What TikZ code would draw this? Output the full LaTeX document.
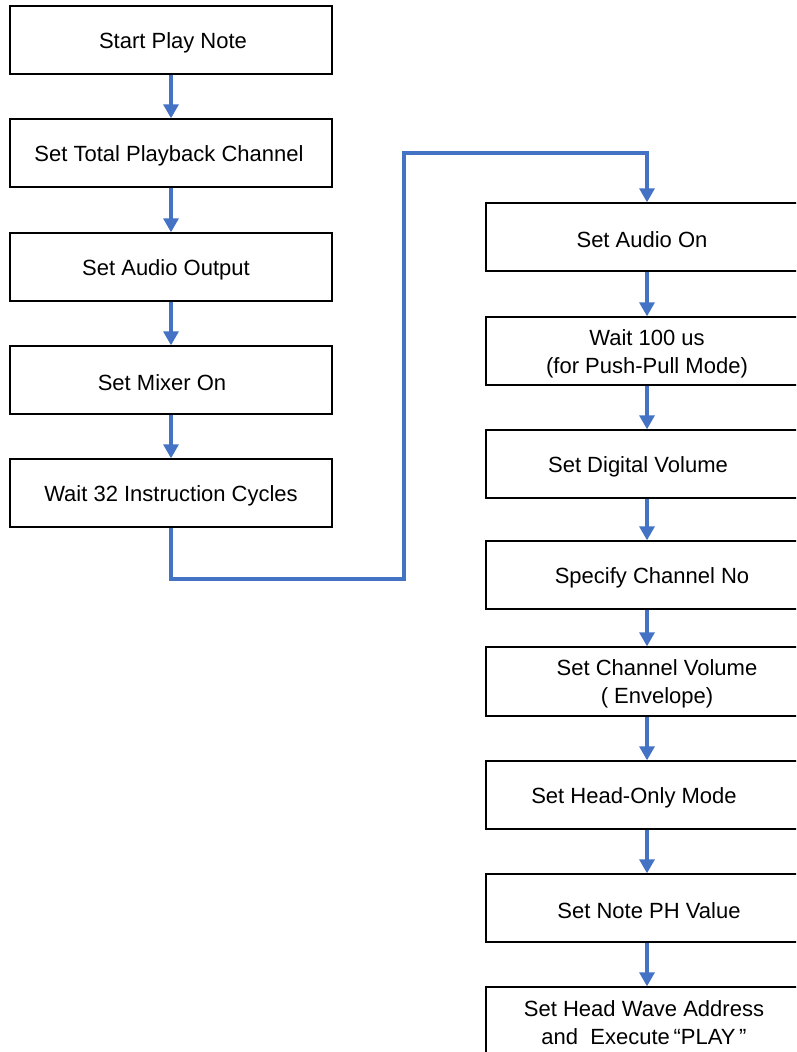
\documentclass[tikz,border=0pt]{standalone}
\usepackage{fontspec}
\setmainfont{Liberation Sans}
\usetikzlibrary{arrows.meta}
\definecolor{flowblue}{RGB}{68,114,196}
\tikzset{
  stepbox/.style={draw=black, line width=1.4pt, fill=white, minimum width=322pt,
    minimum height=68pt, inner sep=0pt},
  txt/.style={font=\fontsize{22}{28}\selectfont, align=center, inner sep=0pt,
    yshift=-2.5pt},
  flow/.style={draw=flowblue, line width=3.3pt,
    -{Triangle[width=15pt,length=14pt]}}
}
\begin{document}
\begin{tikzpicture}[x=1pt,y=-1pt]
\clip (0,0) rectangle (796,1052);
\fill[white] (0,0) rectangle (796,1052);

% left column
\node[stepbox] (l1) at (171,40) {};
\node[stepbox] (l2) at (171,153) {};
\node[stepbox] (l3) at (171,267) {};
\node[stepbox] (l4) at (171,380) {};
\node[stepbox] (l5) at (171,493) {};
\node[txt] (t1) at (173,40) {Start Play Note};
\node[txt] (t2) at (169,153) {Set Total Playback Channel};
\node[txt] (t3) at (166,267) {Set Audio Output};
\node[txt] (t4) at (162,380) {Set Mixer On};
\node[txt] (t5) at (171,493) {Wait 32 Instruction Cycles};

% right column (runs past the right edge)
\node[stepbox] (r1) at (647,237) {};
\node[stepbox] (r2) at (647,351) {};
\node[stepbox] (r3) at (647,464) {};
\node[stepbox] (r4) at (647,575) {};
\node[stepbox, minimum height=69pt] (r5) at (647,681.5) {};
\node[stepbox] (r6) at (647,795) {};
\node[stepbox] (r7) at (647,908) {};
\node[stepbox] (r8) at (647,1021) {};
\node[txt] (u1) at (642,237) {Set Audio On};
\node[txt] (u2) at (647,351) {Wait 100 us\\(for Push-Pull Mode)};
\node[txt] (u3) at (638,464) {Set Digital Volume};
\node[txt] (u4) at (652,575) {Specify Channel No};
\node[txt] (u5) at (657,681.5) {Set Channel Volume\\( Envelope)};
\node[txt] (u6) at (634,795) {Set Head-Only Mode};
\node[txt] (u7) at (649,908) {Set Note PH Value};
\node[txt] (u8) at (644,1020) {Set Head Wave Address\\and~~Execute\,“PLAY\,”};

% connectors
\draw[flow] (l1.south) -- (l2.north);
\draw[flow] (l2.south) -- (l3.north);
\draw[flow] (l3.south) -- (l4.north);
\draw[flow] (l4.south) -- (l5.north);

\coordinate (c1) at (404,579);
\coordinate (c2) at (404,153);
\draw[flow] (l5.south) |- (c1) -- (c2) -| (r1.north);

\draw[flow] (r1.south) -- (r2.north);
\draw[flow] (r2.south) -- (r3.north);
\draw[flow] (r3.south) -- (r4.north);
\draw[flow] (r4.south) -- (r5.north);
\draw[flow] (r5.south) -- (r6.north);
\draw[flow] (r6.south) -- (r7.north);
\draw[flow] (r7.south) -- (r8.north);
\end{tikzpicture}
\end{document}
